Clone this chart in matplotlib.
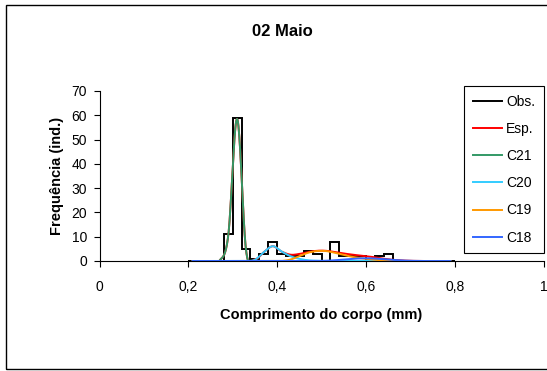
import matplotlib
import matplotlib.pyplot as plt
from matplotlib.patches import Rectangle
from matplotlib.lines import Line2D
import numpy as np

matplotlib.use('Agg')

plt.rcParams['font.family'] = ['Liberation Sans', 'DejaVu Sans']

# body length classes (mm), midpoints of 0.02 mm bins
length_mid = [0.21, 0.23, 0.25, 0.27, 0.29, 0.31, 0.33, 0.35, 0.37, 0.39,
              0.41, 0.43, 0.45, 0.47, 0.49, 0.51, 0.53, 0.55, 0.57, 0.59,
              0.61, 0.63, 0.65, 0.67, 0.69, 0.71, 0.73, 0.75, 0.77, 0.79]
bin_width = 0.02

# observed counts per class
obs = [0, 0, 0, 0, 11, 59, 5, 1, 3, 8,
       3, 2, 2, 4, 3, 0, 8, 2, 2, 2,
       1, 2, 3, 0, 0, 0, 0, 0, 0, 0]

# expected counts (sum of cohorts)
esp = [0, 0, 0, 0.1, 10.5, 58.5, 4.5, 0.7, 3.6, 6.1,
       3.9, 2.6, 2.9, 3.7, 4.2, 4.2, 3.7, 3.1, 2.6, 2.2,
       1.8, 1.2, 0.7, 0.35, 0.15, 0.05, 0, 0, 0, 0]

# cohort components
c21 = [0, 0, 0, 0.1, 10.5, 58.5, 4.5, 0.2, 0, 0,
       0, 0, 0, 0, 0, 0, 0, 0, 0, 0,
       0, 0, 0, 0, 0, 0, 0, 0, 0, 0]
c20 = [0, 0, 0, 0, 0, 0, 0, 0.5, 3.6, 6.1,
       3.9, 2.0, 0.9, 0.3, 0.1, 0, 0, 0, 0, 0,
       0, 0, 0, 0, 0, 0, 0, 0, 0, 0]
c19 = [0, 0, 0, 0, 0, 0, 0, 0, 0, 0,
       0, 0.6, 2.0, 3.4, 4.1, 4.1, 3.4, 2.5, 1.7, 1.1,
       0.7, 0.3, 0.1, 0, 0, 0, 0, 0, 0, 0]
c18 = [0, 0, 0, 0, 0, 0, 0, 0, 0, 0,
       0, 0, 0, 0, 0, 0.1, 0.3, 0.6, 0.9, 1.1,
       1.1, 0.9, 0.6, 0.35, 0.15, 0.05, 0, 0, 0, 0]

curves = [('Esp.', esp, '#ff0000'),
          ('C21', c21, '#339966'),
          ('C20', c20, '#33ccff'),
          ('C19', c19, '#ff9900'),
          ('C18', c18, '#3366ff')]

x_ticks = [0, 0.2, 0.4, 0.6, 0.8, 1.0]
x_tick_labels = ['0', '0,2', '0,4', '0,6', '0,8', '1']
y_ticks = [0, 10, 20, 30, 40, 50, 60, 70]

W, H = 547, 371


def smooth_line(x, y, steps=20):
    # cubic bezier through the points, control points at 1/6 of neighbour span
    pts = np.column_stack([x, y]).astype(float)
    pad = np.vstack([pts[:1], pts, pts[-1:]])
    t = np.linspace(0, 1, steps, endpoint=False)[:, None]
    out = []
    for i in range(len(pts) - 1):
        p0, p3 = pad[i + 1], pad[i + 2]
        c1 = p0 + (pad[i + 2] - pad[i]) / 6
        c2 = p3 - (pad[i + 3] - pad[i + 1]) / 6
        seg = ((1 - t) ** 3) * p0 + 3 * ((1 - t) ** 2) * t * c1 \
            + 3 * (1 - t) * t ** 2 * c2 + t ** 3 * p3
        out.append(seg)
    out.append(pts[-1:])
    out = np.vstack(out)
    return out[:, 0], out[:, 1]


fig = plt.figure(figsize=(W / 100, H / 100), dpi=100)
fig.patches.append(Rectangle((6 / W, 1 - 369 / H), 1.2, (369 - 5) / H,
                             transform=fig.transFigure, fill=False,
                             ec='black', lw=1.0))

ax = fig.add_axes([99.5 / W, 1 - 261 / H, 444 / W, 170 / H])

mids = np.array(length_mid)
edges = np.append(mids - bin_width / 2, mids[-1] + bin_width / 2)
ax.stairs(obs, edges, color='black', lw=1.4, zorder=2)

for name, vals, col in curves:
    xs, ys = smooth_line(length_mid, vals)
    ax.plot(xs, ys, color=col, lw=1.4, label=name, zorder=3)

ax.set_xlim(0, 1)
ax.set_ylim(0, 70)
ax.set_xticks(x_ticks)
ax.set_xticklabels(x_tick_labels)
ax.set_yticks(y_ticks)
ax.tick_params(axis='both', direction='out', length=4, width=0.8,
               labelsize=10, colors='black')
ax.tick_params(axis='x', pad=10)
ax.tick_params(axis='y', pad=5)
for side in ('top', 'right'):
    ax.spines[side].set_visible(False)
for side in ('left', 'bottom'):
    ax.spines[side].set_linewidth(0.8)
    ax.spines[side].set_color('black')

handles, labels = ax.get_legend_handles_labels()
handles = [Line2D([], [], color='black', lw=1.4)] + handles
labels = ['Obs.'] + labels
leg = ax.legend(handles, labels, loc='upper right',
                bbox_to_anchor=(543.5 / W, 1 - 86 / H),
                bbox_transform=fig.transFigure, fontsize=10,
                fancybox=False, edgecolor='black', framealpha=1,
                borderaxespad=0, borderpad=0.62, handlelength=2.1,
                handletextpad=0.3, labelspacing=0.95)
leg.get_frame().set_linewidth(0.8)

fig.text(282 / W, 1 - 32 / H, '02 Maio', ha='center', va='center',
         fontsize=12, fontweight='bold')
fig.text(321.5 / W, 1 - 315 / H, 'Comprimento do corpo (mm)', ha='center',
         va='center', fontsize=10.5, fontweight='bold')
fig.text(57 / W, 1 - 176 / H, 'Frequência (ind.)', ha='center', va='center',
         rotation=90, fontsize=10.5, fontweight='bold')

fig.savefig('out.png', dpi=100)
